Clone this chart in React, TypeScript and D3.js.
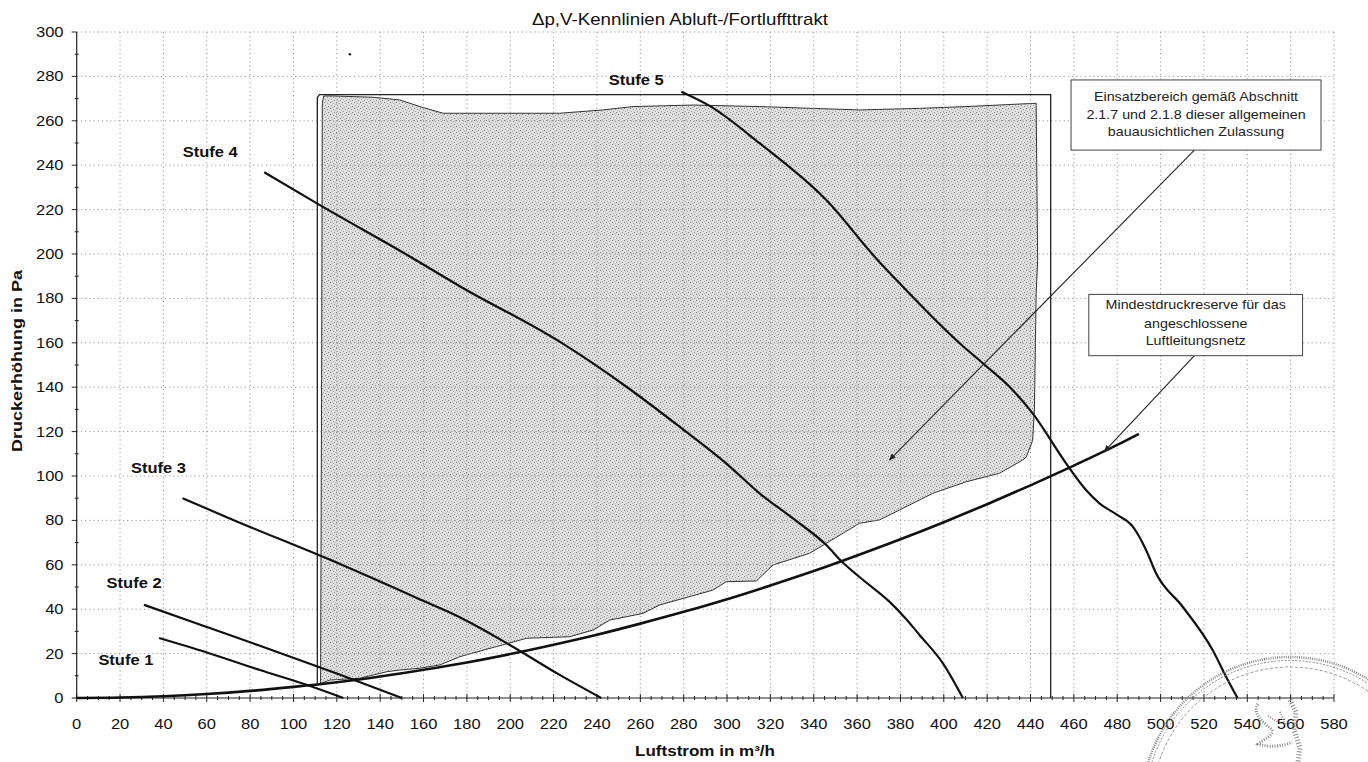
import React from "react";
import * as d3 from "d3";

// ---------- data ----------
const xTickValues = [0, 20, 40, 60, 80, 100, 120, 140, 160, 180, 200, 220, 240, 260, 280, 300, 320, 340, 360, 380, 400, 420, 440, 460, 480, 500, 520, 540, 560, 580];
const yTickValues = [0, 20, 40, 60, 80, 100, 120, 140, 160, 180, 200, 220, 240, 260, 280, 300];

const stufe1: [number, number][] = [[38, 27], [60, 20.5], [84.5, 12.6], [105, 6.3], [123, 0]];
const stufe2: [number, number][] = [[31, 42], [60, 32], [84.5, 23.5], [120, 11], [150, 0]];
const stufe3: [number, number][] = [[48.8, 90], [72.2, 80.2], [115.3, 62.9], [159.8, 43.8], [176.7, 36.4], [199.8, 23.9], [222.8, 10.4], [242, 0]];
const stufe4: [number, number][] = [[86.5, 236.8], [112.2, 222], [155.2, 198], [176.7, 185.5], [222.8, 160.5], [253.6, 140.2], [278.1, 122.2], [299.6, 105.7], [315, 92.2], [330.4, 80.9], [345.8, 68.9], [353.4, 61], [361.1, 54.5], [374.9, 43.4], [382.6, 35.6], [388.8, 28.4], [399.6, 15.6], [408.8, 0]];
const stufe5: [number, number][] = [[278.9, 273.1], [292, 266.7], [315, 249.9], [345.8, 224.3], [368.8, 198], [379.6, 186.8], [407.3, 159.8], [418, 150.8], [430.3, 140.2], [441, 128.2], [456.4, 105.7], [465.6, 93.7], [471.8, 87.7], [480, 82.5], [487.2, 77.2], [493.3, 66.7], [497.9, 56.2], [510.2, 41.1], [524, 21.6], [530.2, 9.6], [535.5, 0]];

// Mindestdruckreserve (Anlagenkennlinie)
const systemCurve: [number, number][] = [[0, 0], [20, 0.2], [40, 0.8], [60, 1.8], [80, 3.2], [100, 5], [120, 7.1], [140, 9.7], [160, 12.7], [180, 16], [200, 19.8], [220, 24], [240, 28.5], [260, 33.5], [280, 38.8], [300, 44.5], [320, 50.7], [340, 57.2], [360, 64.2], [380, 71.5], [400, 79.2], [420, 87.3], [440, 95.8], [460, 104.7], [480, 114], [490, 119]];

// Einsatzbereich (outer frame + shaded area)
const frameOutline: [number, number][] = [[111, 6], [111, 270.5], [112, 271.8], [449.3, 271.8], [449.3, 0]];
const shadedArea: [number, number][] = [
  [112.5, 6.5], [113, 150], [113.3, 268], [114, 271.2], [118.3, 271.2], [136.8, 270.6], [149, 269.4], [158.3, 266.4], [169, 263.4], [176.7, 263.4], [222.8, 263.4], [242.8, 264.9], [256.6, 266.4], [284.3, 267.1], [315, 266.4], [361.1, 264.9], [388.8, 265.6], [410.3, 266.4], [442.6, 267.9],
  [443.3, 197], [442.6, 182], [441.8, 130], [441, 116], [438, 108.5], [436.4, 107.2], [425.6, 101.2], [410.3, 97.4], [394.9, 92.2], [379.6, 84.7], [370.3, 80.2], [361.1, 78.7], [345.8, 69.7], [338.1, 65.2], [321.2, 59.9], [313.5, 52.7], [299.6, 52.4], [293.5, 48.6], [268.9, 41.9], [261.2, 38.1], [245.9, 35.1], [238.2, 30.6], [227.4, 27.6], [207.5, 26.9], [176.7, 18.6], [167.5, 14.9], [158.3, 13.4], [149, 12.6], [142.9, 11.8], [130.6, 8.9], [116.8, 8.1]
];

const stufeLabels = ["Stufe 1", "Stufe 2", "Stufe 3", "Stufe 4", "Stufe 5"];
const stufeLabelAnchors: [number, number][] = [[10, 17.1], [13.8, 51.7], [25, 103.9], [48.9, 246.1], [245.4, 278.7]];

const title = "\u0394p,V-Kennlinien Abluft-/Fortluffttrakt";
const xTitle = "Luftstrom in m\u00b3/h";
const yTitle = "Druckerh\u00f6hung in Pa";

const note1Lines = ["Einsatzbereich gem\u00e4\u00df Abschnitt", "2.1.7 und 2.1.8 dieser allgemeinen", "bauausichtlichen Zulassung"];
const note2Lines = ["Mindestdruckreserve f\u00fcr das", "angeschlossene", "Luftleitungsnetz"];
// box extents [x0, x1, yBottom, yTop] and arrow [fromX, fromY, toX, toY] in data units
const note1Box = [458.7, 574, 246.8, 278.4];
const note1Arrow = [515.6, 246.8, 374.9, 107.2];
const note2Box = [466.9, 565.5, 154.2, 181.8];
const note2Arrow = [515.6, 154.2, 474, 111];

// ---------- layout ----------
const W = 1368, H = 762;
const PL = 76.7, PR = 1334, PT = 32, PB = 698;
const FONT = "'Liberation Sans', Arial, Helvetica, sans-serif";

function T(props: { x: number; y: number; sx?: number; anchor?: string; size: number; bold?: boolean; rotate?: number; children: any; fill?: string }) {
  const { x, y, sx = 1.1, anchor = "start", size, bold, rotate = 0, children, fill = "#111" } = props;
  return (
    <text
      transform={`translate(${x},${y}) rotate(${rotate}) scale(${sx},1)`}
      textAnchor={anchor}
      dominantBaseline="central"
      fontFamily={FONT}
      fontSize={size}
      fontWeight={bold ? "bold" : "normal"}
      fill={fill}
    >
      {children}
    </text>
  );
}

export default function App() {
  const x = d3.scaleLinear().domain([0, 580]).range([PL, PR]);
  const y = d3.scaleLinear().domain([0, 300]).range([PB, PT]);

  const curve = d3.line<[number, number]>().x((d) => x(d[0])).y((d) => y(d[1])).curve(d3.curveMonotoneX);
  const poly = d3.line<[number, number]>().x((d) => x(d[0])).y((d) => y(d[1]));

  const minorX = d3.range(0, 581, 5).filter((v) => v % 20 !== 0);
  const minorY = d3.range(10, 300, 20);

  const stufen = [stufe1, stufe2, stufe3, stufe4, stufe5];

  const box = (b: number[], a: number[], lines: string[], offs: number[]) => {
    const x0 = x(b[0]), x1 = x(b[1]), yt = y(b[3]), yb = y(b[2]);
    const cx = (x0 + x1) / 2;
    return (
      <g>
        <line x1={x(a[0])} y1={y(a[1])} x2={x(a[2])} y2={y(a[3])} stroke="#222" strokeWidth={1.1} markerEnd="url(#arrow)" />
        <rect x={x0} y={yt} width={x1 - x0} height={yb - yt} fill="#fff" stroke="#444" strokeWidth={1} />
        {lines.map((l, i) => (
          <T key={i} x={cx} y={yt + offs[i]} anchor="middle" size={13} sx={1.1} fill="#222">{l}</T>
        ))}
      </g>
    );
  };

  return (
    <svg width={W} height={H} style={{ position: "absolute", left: 0, top: 0, background: "#fff" }}>
      <defs>
        <pattern id="stip" width={6} height={6} patternUnits="userSpaceOnUse">
          <rect width={6} height={6} fill="#e0e0e0" />
          <rect x={0} y={0} width={1} height={1} fill="#777" />
          <rect x={3} y={1} width={1} height={1} fill="#999" />
          <rect x={1} y={3} width={1} height={1} fill="#a0a0a0" />
          <rect x={4} y={4} width={1} height={1} fill="#858585" />
          <rect x={2} y={5} width={1} height={1} fill="#aaa" />
          <rect x={5} y={2} width={1} height={1} fill="#b5b5b5" />
        </pattern>
        <marker id="arrow" viewBox="0 0 10 10" refX={9} refY={5} markerWidth={7} markerHeight={7} orient="auto-start-reverse" markerUnits="userSpaceOnUse">
          <path d="M0,1 L10,5 L0,9 Z" fill="#222" />
        </marker>
      </defs>

      {/* shaded Einsatzbereich */}
      <path d={poly(shadedArea) + "Z"} fill="url(#stip)" stroke="#333" strokeWidth={1} />

      {/* grid */}
      <g stroke="#999" strokeWidth={1} strokeDasharray="1.2 3">
        {xTickValues.filter((v) => v > 0).map((v) => (
          <line key={"gx" + v} x1={x(v)} x2={x(v)} y1={PT} y2={PB} />
        ))}
        {yTickValues.filter((v) => v > 0).map((v) => (
          <line key={"gy" + v} x1={PL} x2={PR} y1={y(v)} y2={y(v)} />
        ))}
      </g>

      {/* axes */}
      <line x1={PL} x2={PL} y1={PT} y2={PB} stroke="#222" strokeWidth={1.2} />
      <line x1={PL} x2={PR} y1={PB} y2={PB} stroke="#222" strokeWidth={1.2} />
      <g stroke="#222" strokeWidth={1}>
        {yTickValues.map((v) => (
          <line key={"ty" + v} x1={PL - 5} x2={PL} y1={y(v)} y2={y(v)} />
        ))}
        {minorY.map((v) => (
          <line key={"my" + v} x1={PL - 2} x2={PL + 2} y1={y(v)} y2={y(v)} />
        ))}
        {xTickValues.map((v) => (
          <line key={"tx" + v} x1={x(v)} x2={x(v)} y1={PB - 4} y2={PB + 4} />
        ))}
        {minorX.map((v) => (
          <line key={"mx" + v} x1={x(v)} x2={x(v)} y1={PB - 2} y2={PB + 2} />
        ))}
      </g>

      {/* tick labels */}
      {xTickValues.map((v) => (
        <T key={"lx" + v} x={x(v)} y={724} anchor="middle" size={14} sx={1.18}>{String(v)}</T>
      ))}
      {yTickValues.map((v) => (
        <T key={"ly" + v} x={63.5} y={y(v)} anchor="end" size={14} sx={1.18}>{String(v)}</T>
      ))}

      {/* frame */}
      <path d={poly(frameOutline) ?? ""} fill="none" stroke="#222" strokeWidth={1.3} />

      {/* system curve */}
      <path d={curve(systemCurve) ?? ""} fill="none" stroke="#111" strokeWidth={2.6} />

      {/* fan curves */}
      {stufen.map((s, i) => (
        <path key={"s" + i} d={curve(s) ?? ""} fill="none" stroke="#111" strokeWidth={2.2} />
      ))}
      {stufeLabels.map((l, i) => (
        <T key={"sl" + i} x={x(stufeLabelAnchors[i][0])} y={y(stufeLabelAnchors[i][1])} size={15} bold sx={1.1}>{l}</T>
      ))}

      {/* notes */}
      {box(note1Box, note1Arrow, note1Lines, [16.7, 34.3, 51.7])}
      {box(note2Box, note2Arrow, note2Lines, [10.7, 29, 46.4])}

      {/* speck */}
      <circle cx={x(126)} cy={y(290)} r={1.3} fill="#222" />

      {/* titles */}
      <T x={680} y={19} anchor="middle" size={16} sx={1.17}>{title}</T>
      <T x={705} y={750} anchor="middle" size={15} bold sx={1.135}>{xTitle}</T>
      <T x={17.5} y={361} anchor="middle" size={15} bold sx={1.2} rotate={-90}>{yTitle}</T>

      {/* stamp (partially visible seal) */}
      <g fill="none" stroke="#8a8a8a">
        <circle cx={1290} cy={805} r={148} strokeWidth={2.4} strokeDasharray="1 1.2" />
        <circle cx={1290} cy={805} r={144.5} strokeWidth={1} strokeDasharray="2 1.5" />
        <circle cx={1290} cy={805} r={138} strokeWidth={0.9} strokeDasharray="3 2" />
        <path d="M1258,704 C1252,712 1262,722 1270,728 C1278,734 1262,740 1258,744 C1270,748 1284,746 1292,742" strokeWidth={3} strokeDasharray="1 1.5" />
        <path d="M1290,700 L1296,712 L1294,730 L1300,748 L1298,762" strokeWidth={5} strokeDasharray="1 2" />
        <path d="M1280,712 L1286,726 M1268,716 L1278,722" strokeWidth={2} strokeDasharray="1 1.5" />
      </g>
    </svg>
  );
}
